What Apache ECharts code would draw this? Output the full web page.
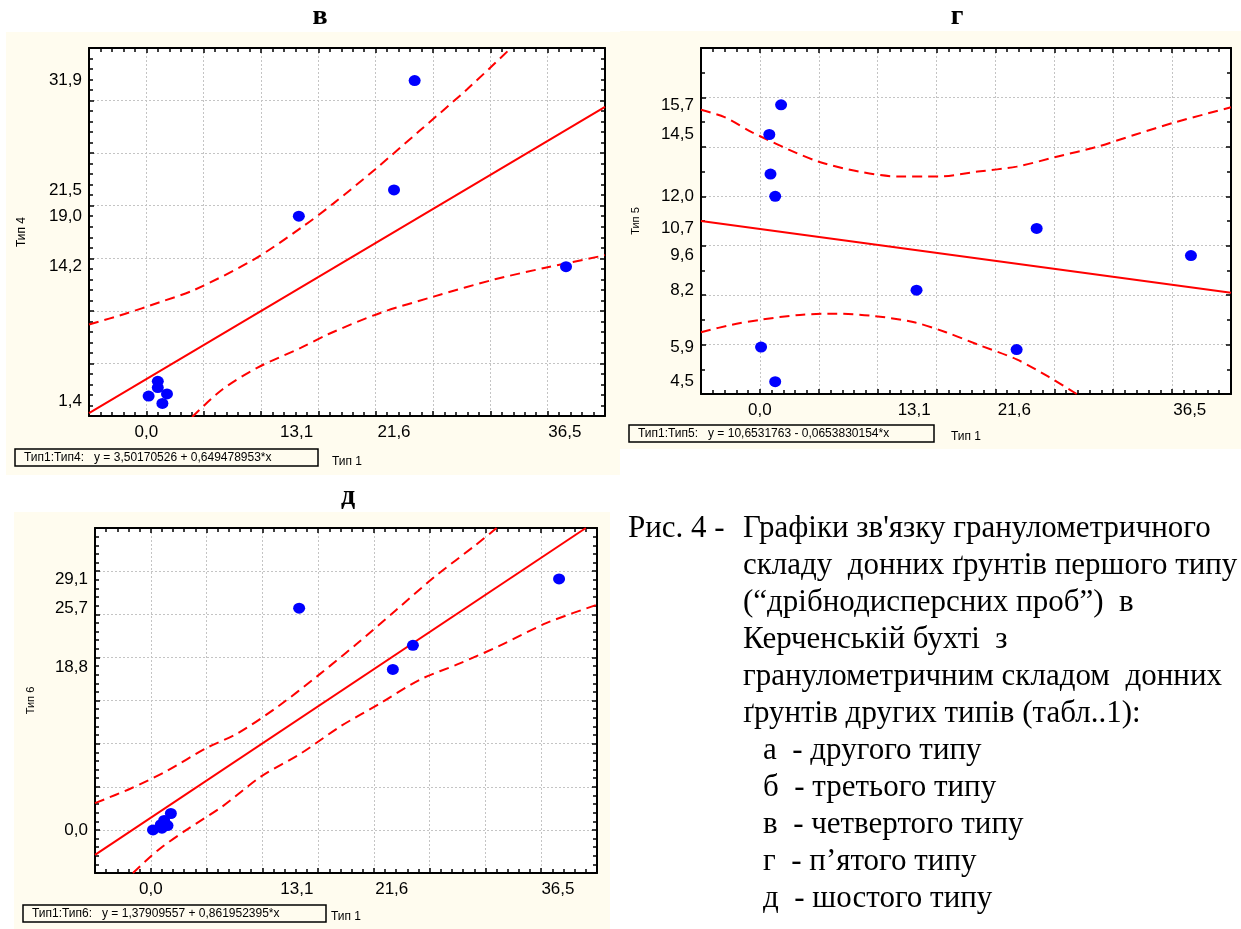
<!DOCTYPE html>
<html>
<head>
<meta charset="utf-8">
<script src="https://cdn.jsdelivr.net/npm/echarts@6/dist/echarts.min.js"></script>
<style>
  html, body { margin: 0; padding: 0; background: #fff; }
  #chart { width: 1241px; height: 929px; }
</style>
</head>
<body>
<div id="chart"></div>
<script>
(function () {

  'use strict';

  // x tick labels (same for all panels)
  var xTickLabels = [0.0, 13.1, 21.6, 36.5];

  // panel в : Тип1 vs Тип4
  var yTicksV = [1.4, 14.2, 19.0, 21.5, 31.9];
  var pointsV = [[23.4, 31.9], [21.6, 21.5], [13.3, 19.0], [36.6, 14.2], [0.2, 1.9],
    [1.0, 3.3], [1.0, 2.7], [1.8, 2.1], [1.4, 1.2]];
  var fitV = [[-5, 0.28], [40, 29.4]];
  var upperV = [[-5, 8.7], [-1.9, 9.7], [1.1, 10.8], [4.2, 12.0], [9.4, 14.9], [13.5, 17.9],
    [16.3, 20.2], [20.0, 23.5], [23.8, 27.1], [28.0, 31.1], [31.8, 35.0]];
  var lowerV = [[4.0, -0.1], [6.6, 2.5], [9.7, 4.6], [13.5, 6.5], [15.9, 7.8], [20.4, 9.8],
    [25.2, 11.4], [30.4, 13.0], [34.8, 14.1], [39.6, 15.2], [40, 15.3]];

  // panel г : Тип1 vs Тип5
  var yTicksG = [4.5, 5.9, 8.2, 9.6, 10.7, 12.0, 14.5, 15.7];
  var pointsG = [[1.8, 15.7], [0.8, 14.5], [0.9, 12.9], [1.3, 12.0], [23.5, 10.7],
    [36.6, 9.6], [13.3, 8.2], [0.1, 5.9], [21.8, 5.8], [1.3, 4.5]];
  var fitG = [[-5, 11.0], [40, 8.1]];
  var upperG = [[-5, 15.5], [-3.0, 15.2], [-0.7, 14.6], [2.4, 13.9], [5.0, 13.4], [8.4, 13.0],
    [11.8, 12.8], [15.1, 12.8], [18.5, 13.0], [21.8, 13.2], [25.2, 13.6], [28.6, 14.0],
    [31.9, 14.5], [35.3, 15.0], [40, 15.6]];
  var lowerG = [[-5, 6.5], [-2.4, 6.8], [0, 7.0], [3.4, 7.2], [6.4, 7.25], [9.8, 7.15],
    [13.1, 6.9], [15.8, 6.5], [18.5, 6.0], [21.8, 5.4], [24.5, 4.7], [26.9, 4.0]];

  // panel д : Тип1 vs Тип6
  var yTicksD = [0.0, 18.8, 25.7, 29.1];
  var pointsD = [[13.3, 25.7], [36.6, 29.1], [23.5, 21.4], [21.7, 18.6], [0.2, 0.0],
    [1.8, 1.9], [0.9, 0.6], [1.2, 1.1], [1.5, 0.5], [1.0, 0.2]];
  var fitD = [[-5, -2.9], [39.0, 35.0]];
  var upperD = [[-5, 3.1], [-1.8, 4.8], [1.4, 6.8], [5.0, 9.5], [7.8, 11.2], [11.4, 14.3],
    [14.9, 17.8], [18.5, 21.6], [22.0, 25.5], [25.5, 29.4], [29.1, 33.0], [31.0, 35.0]];
  var lowerD = [[-1.6, -5.0], [0.7, -2.3], [3.2, 0.0], [6.4, 2.7], [9.9, 6.2], [13.5, 8.9],
    [17.0, 12.0], [20.6, 14.7], [24.1, 17.4], [27.7, 19.3], [31.2, 21.3], [35.5, 24.0], [40, 26.1]];

  var equations = [
    'Тип1:Тип4:   y = 3,50170526 + 0,649478953*x',
    'Тип1:Тип5:   y = 10,6531763 - 0,0653830154*x',
    'Тип1:Тип6:   y = 1,37909557 + 0,861952395*x'
  ];

  var captionHead = 'Рис. 4 -';
  var captionLines = [
    'Графіки зв\'язку гранулометричного',
    'складу  донних ґрунтів першого типу',
    '(“дрібнодисперсних проб”)  в',
    'Керченській бухті  з',
    'гранулометричним складом  донних',
    'ґрунтів других типів (табл..1):'
  ];
  var captionItems = [
    'а  - другого типу',
    'б  - третього типу',
    'в  - четвертого типу',
    'г  - п’ятого типу',
    'д  - шостого типу'
  ];

  var CREAM = '#fffcef';
  var SANS = 'Liberation Sans, Arial, sans-serif';
  var SERIF = 'Liberation Serif, Times New Roman, serif';

  function fmt(v) {
    return Number(v).toFixed(1).replace('.', ',');
  }

  var panels = [
    { grid: {left: 89, top: 48, width: 516, height: 368},
      yMin: 0, yMax: 35, yInt: 5, yMinor: 5, xMinor: 5,
      yTicks: yTicksV, yName: 'Тип 4', yNameGap: 61, yNameSize: 12, xNameGap: 40,
      points: pointsV, fit: fitV, upper: upperV, lower: lowerV,
      bg: [6, 32, 614, 443], box: [15, 449, 303, 17], title: ['в', 320, 17] },
    { grid: {left: 701, top: 48, width: 530, height: 346},
      yMin: 4, yMax: 18, yInt: 2, yMinor: 2, xMinor: 5,
      yTicks: yTicksG, yName: 'Тип 5', yNameGap: 60, yNameSize: 11, xNameGap: 37,
      points: pointsG, fit: fitG, upper: upperG, lower: lowerG,
      bg: [620, 31, 621, 418], box: [629, 425, 305, 17], title: ['г', 957, 17] },
    { grid: {left: 95, top: 528, width: 502, height: 345},
      yMin: -5, yMax: 35, yInt: 5, yMinor: 5, xMinor: 5,
      yTicks: yTicksD, yName: 'Тип 6', yNameGap: 59, yNameSize: 11, xNameGap: 38,
      points: pointsD, fit: fitD, upper: upperD, lower: lowerD,
      bg: [14, 512, 596, 417], box: [23, 905, 303, 17], title: ['д', 348, 497] }
  ];

  var tickLine = {color: '#000', width: 1.5};
  var frameLine = {show: true, onZero: false, lineStyle: {color: '#000', width: 2}};
  var gridLine = {show: true, lineStyle: {color: '#c4c4c4', width: 1, type: [2, 2]}};

  var grids = [], xAxes = [], yAxes = [], series = [], graphics = [];

  panels.forEach(function (p, gi) {
    grids.push(Object.assign({show: true, backgroundColor: '#fff', borderWidth: 0}, p.grid));

    xAxes.push({
      type: 'value', gridIndex: gi, position: 'bottom', min: -5, max: 40, interval: 5,
      name: 'Тип 1', nameLocation: 'middle', nameGap: p.xNameGap,
      nameTextStyle: {fontFamily: SANS, fontSize: 12, color: '#000'},
      axisLine: frameLine,
      axisTick: {show: true, inside: true, length: 5, lineStyle: tickLine},
      minorTick: {show: true, splitNumber: p.xMinor, length: 4, lineStyle: tickLine},
      axisLabel: {customValues: xTickLabels, formatter: fmt, fontFamily: SANS, fontSize: 17,
        color: '#000', margin: 8},
      splitLine: gridLine
    });
    xAxes.push({
      type: 'value', gridIndex: gi, position: 'top', min: -5, max: 40, interval: 5,
      axisLine: frameLine,
      axisTick: {show: true, inside: true, length: 5, lineStyle: tickLine},
      minorTick: {show: true, splitNumber: p.xMinor, length: 4, lineStyle: tickLine},
      axisLabel: {show: false},
      splitLine: {show: false}
    });
    yAxes.push({
      type: 'value', gridIndex: gi, position: 'left', min: p.yMin, max: p.yMax, interval: p.yInt,
      name: p.yName, nameLocation: 'middle', nameGap: p.yNameGap,
      nameTextStyle: {fontFamily: SANS, fontSize: p.yNameSize, color: '#000'},
      axisLine: frameLine,
      axisTick: {show: true, inside: true, length: 5, lineStyle: tickLine},
      minorTick: {show: true, splitNumber: p.yMinor, length: 4, lineStyle: tickLine},
      axisLabel: {customValues: p.yTicks, formatter: fmt, fontFamily: SANS, fontSize: 17,
        color: '#000', margin: 7},
      splitLine: gridLine
    });
    yAxes.push({
      type: 'value', gridIndex: gi, position: 'right', min: p.yMin, max: p.yMax, interval: p.yInt,
      axisLine: frameLine,
      axisTick: {show: true, inside: true, length: 5, lineStyle: tickLine},
      minorTick: {show: true, splitNumber: p.yMinor, length: 4, lineStyle: tickLine},
      axisLabel: {show: false},
      splitLine: {show: false}
    });

    var ax = {xAxisIndex: gi * 2, yAxisIndex: gi * 2};
    series.push(Object.assign({
      type: 'line', data: p.upper, symbol: 'none', smooth: 0.3, clip: true, z: 3,
      lineStyle: {color: '#ff0000', width: 2, type: [10, 6]}
    }, ax));
    series.push(Object.assign({
      type: 'line', data: p.lower, symbol: 'none', smooth: 0.3, clip: true, z: 3,
      lineStyle: {color: '#ff0000', width: 2, type: [10, 6]}
    }, ax));
    series.push(Object.assign({
      type: 'line', data: p.fit, symbol: 'none', clip: true, z: 3,
      lineStyle: {color: '#ff0000', width: 2}
    }, ax));
    series.push(Object.assign({
      type: 'scatter', data: p.points, symbol: 'circle', symbolSize: [12, 11], z: 4,
      itemStyle: {color: '#0000ff', opacity: 1}
    }, ax));

    // cream panel background
    graphics.push({
      type: 'rect', z: -10, silent: true,
      shape: {x: p.bg[0], y: p.bg[1], width: p.bg[2], height: p.bg[3]},
      style: {fill: CREAM}
    });
    // equation box
    graphics.push({
      type: 'rect', z: 5,
      shape: {x: p.box[0], y: p.box[1], width: p.box[2], height: p.box[3]},
      style: {fill: CREAM, stroke: '#000', lineWidth: 1.5}
    });
    graphics.push({
      type: 'text', z: 6, x: p.box[0] + 9, y: p.box[1] + p.box[3] / 2,
      style: {text: equations[gi], fontFamily: SANS, fontSize: 12, fill: '#000', verticalAlign: 'middle'}
    });
    // panel letter
    graphics.push({
      type: 'text', z: 6, x: p.title[1], y: p.title[2],
      style: {text: p.title[0], fontFamily: SERIF, fontSize: 28, fontWeight: 'bold', fill: '#000',
        align: 'center', verticalAlign: 'middle'}
    });
  });

  // caption
  var capStyle = {fontFamily: SERIF, fontSize: 31, fill: '#000', verticalAlign: 'middle'};
  graphics.push({type: 'text', x: 628, y: 529, style: Object.assign({text: captionHead}, capStyle)});
  captionLines.forEach(function (t, i) {
    graphics.push({type: 'text', x: 743, y: 529 + 37 * i, style: Object.assign({text: t}, capStyle)});
  });
  captionItems.forEach(function (t, i) {
    graphics.push({type: 'text', x: 763, y: 529 + 37 * (i + 6), style: Object.assign({text: t}, capStyle)});
  });

  var chart = echarts.init(document.getElementById('chart'), null, {renderer: 'canvas'});
  chart.setOption({
    animation: false,
    backgroundColor: '#fff',
    grid: grids,
    xAxis: xAxes,
    yAxis: yAxes,
    series: series,
    graphic: graphics
  });

})();
</script>
</body>
</html>
